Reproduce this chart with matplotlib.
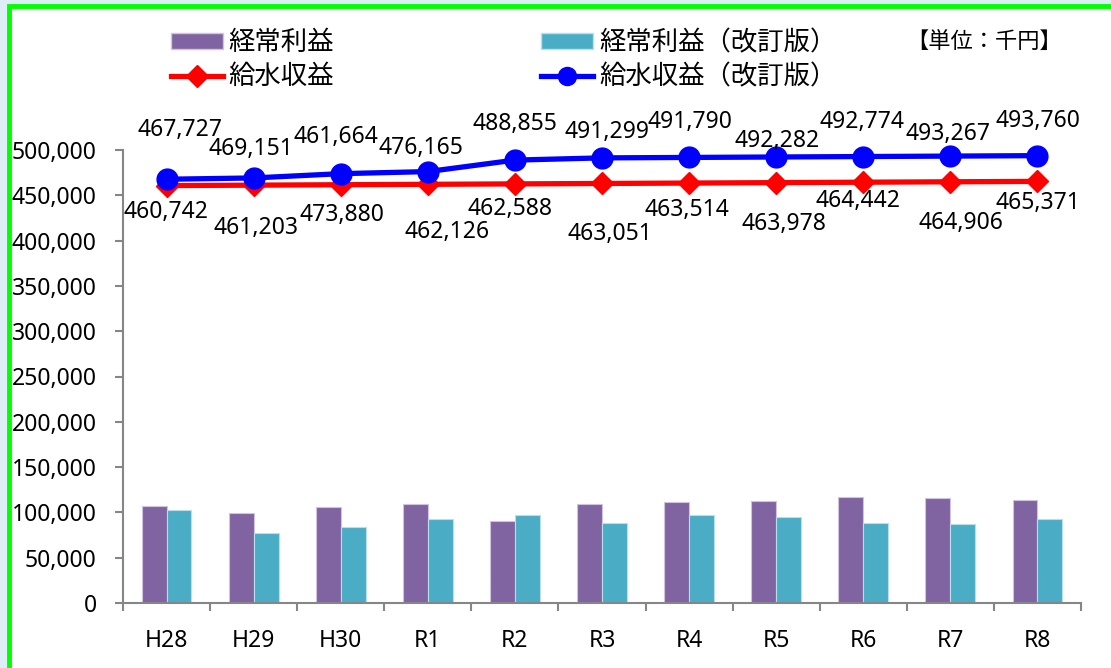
import matplotlib
matplotlib.use("Agg")
import matplotlib.pyplot as plt
from matplotlib.patches import Rectangle, Patch
from matplotlib.lines import Line2D
from matplotlib.ticker import FuncFormatter, MultipleLocator
import numpy as np

plt.rcParams['font.family'] = ['Noto Sans', 'Noto Sans CJK JP', 'DejaVu Sans']

# data
years = ["H28", "H29", "H30", "R1", "R2", "R3", "R4", "R5", "R6", "R7", "R8"]
keijo = [106700, 99300, 106300, 108900, 90100, 109600, 111500, 112200, 116600, 116300, 113300]
keijo_rev = [102600, 77300, 83900, 92700, 97100, 87900, 97100, 94600, 87900, 86800, 93100]
kyusui = [460742, 461203, 461664, 462126, 462588, 463051, 463514, 463978, 464442, 464906, 465371]
kyusui_rev = [467727, 469151, 473880, 476165, 488855, 491299, 491790, 492282, 492774, 493267, 493760]
# label texts as printed on the chart
top_labels = ["467,727", "469,151", "461,664", "476,165", "488,855", "491,299",
              "491,790", "492,282", "492,774", "493,267", "493,760"]
bottom_labels = ["460,742", "461,203", "473,880", "462,126", "462,588", "463,051",
                 "463,514", "463,978", "464,442", "464,906", "465,371"]

# label offsets in pixels (dx, dy)
top_off = [(13, 49), (-3, 29), (-5, 37), (-7, 24), (0, 36), (5, 26),
           (1, 35), (1, 16), (-1, 35), (-2, 22), (0, 35)]
bot_off = [(-1, -26), (2, -43), (1, -30), (19, -48), (-5, -25), (8, -51),
           (-2, -27), (8, -41), (-5, -19), (11, -41), (0, -22)]

PURPLE = "#8064A2"
TEAL = "#4BACC6"
GRAY = "#868686"

fig = plt.figure(figsize=(11.11, 6.68), dpi=100)
fig.patch.set_facecolor("#DDEEF6")
# green frame, cut off at right and bottom like the screenshot
fig.patches.append(Rectangle((9 / 1111, -10 / 668), 1120 / 1111, 672 / 668,
                             transform=fig.transFigure, facecolor="white",
                             edgecolor="#00FF00", linewidth=3.5, zorder=-1))

ax = fig.add_axes([123 / 1111, 65 / 668, 958 / 1111, 453 / 668])
ax.set_facecolor("none")
x = np.arange(len(years))
w = 0.286
ax.bar(x - w / 2, keijo, w, color=PURPLE, edgecolor="#CFC3DD", linewidth=0.8, zorder=2)
ax.bar(x + w / 2, keijo_rev, w, color=TEAL, edgecolor="#B9E0EA", linewidth=0.8, zorder=2)
ax.plot(x, kyusui, color="red", lw=3.8, marker="D", ms=11, clip_on=False, zorder=3)
ax.plot(x, kyusui_rev, color="blue", lw=3.8, marker="o", ms=15, clip_on=False, zorder=4)

for i in range(len(years)):
    ax.annotate(top_labels[i], (x[i], kyusui_rev[i]), xytext=top_off[i],
                textcoords="offset pixels", ha="center", va="center",
                fontsize=16.5, annotation_clip=False, zorder=5)
    ax.annotate(bottom_labels[i], (x[i], kyusui[i]), xytext=bot_off[i],
                textcoords="offset pixels", ha="center", va="center",
                fontsize=16.5, annotation_clip=False, zorder=5)

ax.set_xlim(-0.5, len(years) - 0.5)
ax.set_ylim(0, 500000)
ax.yaxis.set_major_locator(MultipleLocator(50000))
ax.yaxis.set_major_formatter(FuncFormatter(lambda v, p: f"{int(v):,}"))
ax.set_xticks(x)
ax.set_xticklabels(years)
ax.set_xticks(np.arange(-0.5, len(years)), minor=True)
ax.tick_params(axis="x", which="major", length=0, pad=19, labelsize=16.5)
ax.tick_params(axis="x", which="minor", length=6, color=GRAY, width=1.5)
ax.tick_params(axis="y", length=6, color=GRAY, width=1.5, pad=13, labelsize=16.5)
for s in ["top", "right"]:
    ax.spines[s].set_visible(False)
for s in ["left", "bottom"]:
    ax.spines[s].set_color(GRAY)
    ax.spines[s].set_linewidth(1.5)

handles = [Patch(facecolor=PURPLE, edgecolor="#CFC3DD"),
           Line2D([], [], color="red", lw=3.8, marker="D", ms=11),
           Patch(facecolor=TEAL, edgecolor="#B9E0EA"),
           Line2D([], [], color="blue", lw=3.8, marker="o", ms=13)]
labels = ["経常利益", "給水収益", "経常利益（改訂版）", "給水収益（改訂版）"]
fig.legend(handles, labels, ncol=2, loc="upper left", bbox_to_anchor=(171 / 1111, 1 - 29 / 668),
           frameon=False, fontsize=19, handlelength=1.97, handleheight=0.55, handletextpad=0.22,
           columnspacing=7.85, labelspacing=0.24, borderpad=0, borderaxespad=0)
fig.text(1062 / 1111, 1 - 43 / 668, "【単位：千円】", ha="right", va="center", fontsize=16)

fig.savefig("out.png", dpi=100, facecolor=fig.get_facecolor())
